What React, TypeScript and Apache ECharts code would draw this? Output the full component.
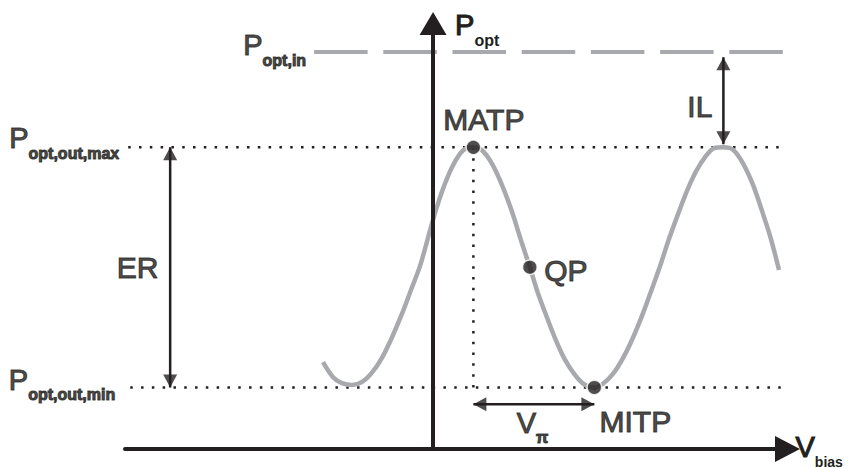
import { useEffect, useRef } from "react";
import * as echarts from "echarts";

// Transfer curve: bias voltage (V) against optical output power (normalised to the input power)
const curveV = [
  -2.73, -2.48, -2.26, -2.01, -1.76, -1.51, -1.26, -1.02, -0.77, -0.55, -0.32, -0.12,
  0.07, 0.27, 0.47, 0.67, 0.82, 1.0,
  1.22, 1.46, 1.71, 1.96, 2.18, 2.4, 2.6, 2.83, 3.05, 3.27, 3.5, 3.72, 4.0,
  4.22, 4.46, 4.71, 4.96, 5.21, 5.43, 5.63, 5.85, 6.08, 6.3, 6.52, 6.75, 6.97, 7.2,
  7.44, 7.69, 7.94, 8.18, 8.38, 8.58,
];
const curveP = [
  0.219, 0.181, 0.166, 0.161, 0.169, 0.193, 0.231, 0.281, 0.341, 0.4, 0.462, 0.534,
  0.602, 0.662, 0.71, 0.744, 0.758, 0.76,
  0.752, 0.719, 0.665, 0.597, 0.526, 0.458, 0.393, 0.33, 0.273, 0.225, 0.189, 0.165, 0.155,
  0.165, 0.189, 0.229, 0.281, 0.343, 0.404, 0.461, 0.529, 0.593, 0.651, 0.699, 0.736, 0.758, 0.76,
  0.754, 0.719, 0.664, 0.593, 0.529, 0.451,
];

// Power levels
const P_IN = 1.0;
const P_MAX = 0.76;
const P_MIN = 0.155;

// Operating points: maximum, quadrature and minimum transmission
const pointNames = ["MATP", "QP", "MITP"];
const pointV = [1.0, 2.4, 4.0];
const pointP = [P_MAX, 0.458, P_MIN];

// Extent of the reference level lines along the bias axis
const inLevelV = [-2.95, 8.68];
const maxLevelV = [-7.56, 8.6];
const minLevelV = [-7.51, 8.68];
const matpDropP = [P_MAX, 0.14];
const mitpDropP = [P_MIN, 0.128];

// Dimension arrows
const erV = -6.52;
const erP = [P_MAX, P_MIN];
const ilV = 7.2;
const ilP = [0.987, 0.768];
const vpiP = 0.113;
const vpiV = [1.0, 4.0];

// Axis extents
const X_MIN = -7.64;
const X_MAX = 8.79;
const Y_MAX = 1.072;

const INK = "#231f20";
const GREY = "#a7a9ac";
const MAIN_FONT = "Liberation Sans, Arial, sans-serif";

// main letter plus a lowered, bold subscript
const mainStyle = {
  fontSize: 29,
  fontFamily: MAIN_FONT,
  color: INK,
  lineHeight: 30,
  textBorderColor: INK,
  textBorderWidth: 1.1,
};
const subStyle = (fontSize: number) => ({
  fontSize,
  fontFamily: MAIN_FONT,
  fontWeight: "bold",
  color: INK,
  lineHeight: 30,
  padding: [30, 0, 0, 0],
});
const rich = { p: mainStyle, s: subStyle(16) };
const richBias = { p: mainStyle, s: subStyle(14) };

const UP = "path://M5,0L10,10L0,10Z";
const DOWN = "path://M0,0L10,0L5,10Z";
const LEFT = "path://M10,0L0,5L10,10Z";
const RIGHT = "path://M0,0L10,5L0,10Z";

const seg = (a: number[], b: number[]) => [a, b];

export default function App() {
  const ref = useRef<HTMLDivElement>(null);

  useEffect(() => {
    if (!ref.current) return;
    const chart = echarts.init(ref.current, null, { renderer: "svg" });

    const dotted = { color: INK, width: 2.5, type: [2.5, 8.3] as number[] };
    const plainLine = (data: number[][], lineStyle: any, z = 2) => ({
      type: "line",
      data,
      symbol: "none",
      silent: true,
      z,
      lineStyle,
    });
    const shaft = { color: INK, width: 2.5 };

    const annotation = (
      value: number[],
      text: string,
      align: string,
      offset: number[]
    ) => ({
      value,
      label: { show: true, formatter: text, align, offset },
    });

    const plainText = {
      color: INK,
      fontSize: 30,
      fontFamily: MAIN_FONT,
      textBorderColor: INK,
      textBorderWidth: 1.1,
    };

    const option: any = {
      animation: false,
      backgroundColor: "#ffffff",
      grid: { left: 125, right: 64.5, top: 23.5, bottom: 19, outerBoundsMode: "none" },
      xAxis: {
        type: "value",
        min: X_MIN,
        max: X_MAX,
        z: 5,
        name: "{p|V}{s|bias}",
        nameLocation: "end",
        nameGap: 8,
        nameTextStyle: { rich: richBias, padding: [0, 0, 5, 0] },
        axisLine: {
          onZero: true,
          symbol: ["none", "triangle"],
          symbolSize: [26, 25],
          lineStyle: { color: INK, width: 4 },
        },
        axisTick: { show: false },
        axisLabel: { show: false },
        splitLine: { show: false },
      },
      yAxis: {
        type: "value",
        min: 0,
        max: Y_MAX,
        z: 5,
        name: "{p|P}{s|opt}",
        nameLocation: "end",
        nameGap: -1.5,
        nameTextStyle: { rich, align: "left", verticalAlign: "middle", padding: [0, 0, 0, 22] },
        axisLine: {
          onZero: true,
          symbol: ["none", "triangle"],
          symbolSize: [27, 23],
          lineStyle: { color: INK, width: 4 },
        },
        axisTick: { show: false },
        axisLabel: { show: false },
        splitLine: { show: false },
      },
      series: [
        plainLine(seg([inLevelV[0], P_IN], [inLevelV[1], P_IN]), {
          color: GREY,
          width: 4,
          type: [53.5, 15.7],
        }),
        plainLine(seg([maxLevelV[0], P_MAX], [maxLevelV[1], P_MAX]), dotted),
        plainLine(seg([minLevelV[0], P_MIN], [minLevelV[1], P_MIN]), dotted),
        plainLine(seg([pointV[0], matpDropP[0]], [pointV[0], matpDropP[1]]), dotted),
        plainLine(seg([pointV[2], mitpDropP[0]], [pointV[2], mitpDropP[1]]), dotted),
        {
          type: "line",
          data: curveV.map((v, i) => [v, curveP[i]]),
          smooth: 0.3,
          symbol: "none",
          silent: true,
          z: 3,
          lineStyle: { color: GREY, width: 4.5 },
        },
        plainLine(seg([erV, erP[0]], [erV, erP[1]]), shaft, 3),
        plainLine(seg([ilV, ilP[0]], [ilV, ilP[1]]), shaft, 3),
        plainLine(seg([vpiV[0], vpiP], [vpiV[1], vpiP]), shaft, 3),
        {
          type: "scatter",
          silent: true,
          z: 4,
          itemStyle: { color: INK },
          data: [
            { value: [erV, erP[0]], symbol: UP, symbolSize: [14, 13], symbolOffset: [0, 6.5] },
            { value: [erV, erP[1]], symbol: DOWN, symbolSize: [14, 13], symbolOffset: [0, -6.5] },
            { value: [ilV, ilP[0]], symbol: UP, symbolSize: [14, 13], symbolOffset: [0, 6.5] },
            { value: [ilV, ilP[1]], symbol: DOWN, symbolSize: [14, 13], symbolOffset: [0, -6.5] },
            { value: [vpiV[0], vpiP], symbol: LEFT, symbolSize: [13, 14], symbolOffset: [6.5, 0] },
            { value: [vpiV[1], vpiP], symbol: RIGHT, symbolSize: [13, 14], symbolOffset: [-6.5, 0] },
          ],
        },
        {
          type: "scatter",
          silent: true,
          z: 6,
          symbolSize: 14.5,
          itemStyle: { color: INK, borderColor: "#ffffff", borderWidth: 1.5 },
          label: { show: true, position: "inside", ...plainText },
          data: [
            { value: [pointV[0], pointP[0]], label: { formatter: pointNames[0], offset: [10.5, -27.5] } },
            { value: [pointV[1], pointP[1]], label: { formatter: pointNames[1], offset: [36, 3] } },
            { value: [pointV[2], pointP[2]], label: { formatter: pointNames[2], offset: [41, 34] } },
          ],
        },
        {
          type: "scatter",
          silent: true,
          z: 6,
          symbolSize: 1,
          itemStyle: { color: "rgba(0,0,0,0)" },
          label: { show: true, position: "inside", ...plainText, rich },
          data: [
            annotation([inLevelV[0], P_IN], "{p|P}{s|opt,in}", "right", [-8, -7]),
            annotation([maxLevelV[0], P_MAX], "{p|P}{s|opt,out,max}", "right", [-9, -9.3]),
            annotation([minLevelV[0], P_MIN], "{p|P}{s|opt,out,min}", "right", [-15, -7.5]),
            annotation([erV, (erP[0] + erP[1]) / 2], "ER", "center", [-32.5, 0]),
            annotation([ilV, (ilP[0] + ilP[1]) / 2], "IL", "center", [-23.5, 6]),
            annotation([(vpiV[0] + vpiV[1]) / 2, vpiP], "{p|V}{s|π}", "center", [-1.3, 18.4]),
          ],
        },
      ],
    };

    chart.setOption(option);
    return () => chart.dispose();
  }, []);

  return (
    <div
      ref={ref}
      style={{ position: "absolute", left: 0, top: 0, width: 852, height: 468, background: "#fff" }}
    />
  );
}
